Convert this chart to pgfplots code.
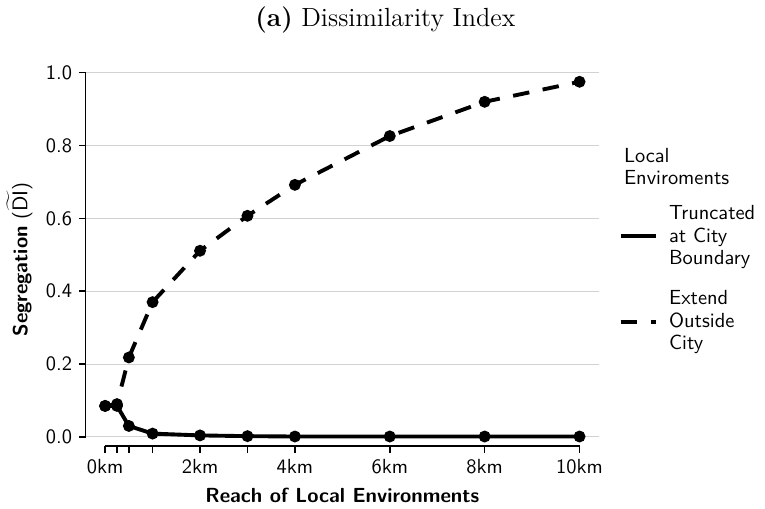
\documentclass[border=0pt]{standalone}
\usepackage{pgfplots}
\pgfplotsset{compat=1.18}
\newcommand{\sfsize}{\fontsize{10.5}{11.5}\selectfont\sffamily}
\begin{document}
\begin{tikzpicture}
\begin{axis}[
    scale only axis,
    width=264pt, height=192pt,
    xmin=-0.41, xmax=10.41,
    ymin=-0.025, ymax=1.0,
    clip=false,
    axis line style={draw=none},
    xtick={0,0.25,0.5,1,2,3,4,6,8,10},
    xticklabels={0km,,,,2km,,4km,6km,8km,10km},
    ytick={0,0.2,0.4,0.6,0.8,1.0},
    xtick pos=bottom, ytick pos=left,
    tick align=outside,
    major tick length=3.5pt,
    tick style={black, line width=0.8pt},
    ymajorgrids,
    grid style={gray!35, line width=0.5pt},
    /pgf/number format/assume math mode=true,
    ticklabel style={font=\sfsize},
    yticklabel style={/pgf/number format/fixed, /pgf/number format/precision=1, /pgf/number format/fixed zerofill},
    xlabel={\bfseries Reach of Local Environments},
    ylabel={\textbf{Segregation} ($\widetilde{\mathsf{DI}}$)},
    label style={font=\sfsize},
    title={\textbf{(a)} Dissimilarity Index},
    title style={font=\fontsize{13.5}{15}\selectfont\rmfamily, at={(rel axis cs:0.584,1)}, anchor=south, yshift=11pt},
    legend style={draw=none, fill=none, font=\sfsize,
        at={(rel axis cs:1.026,0.666)}, anchor=north west,
        cells={align=left, anchor=west}, row sep=8pt, column sep=4pt},
    legend image code/.code={\draw[#1] (0pt,0pt) -- (18pt,0pt);},
]
\addplot[black, line width=2pt, mark=*, mark size=2pt, mark options={solid, draw=none, fill=black}] coordinates {
    (0,0.085) (0.25,0.085) (0.5,0.030) (1,0.009) (2,0.004) (3,0.002)
    (4,0.001) (6,0.001) (8,0.001) (10,0.001)
};
\addlegendentry{Truncated\\at City\\Boundary}
\addplot[black, line width=2pt, dash pattern=on 8.5pt off 7pt, mark=*, mark size=2pt, mark options={solid, draw=none, fill=black}] coordinates {
    (0,0.085) (0.25,0.090) (0.5,0.218) (1,0.370) (2,0.511) (3,0.607)
    (4,0.692) (6,0.826) (8,0.920) (10,0.975)
};
\addlegendentry{Extend\\Outside\\City}
\draw[line width=0.8pt] (axis cs:0,-0.025) -- (axis cs:10,-0.025);
\draw[line width=0.8pt] (axis cs:-0.41,0) -- (axis cs:-0.41,1);
\node[anchor=north west, align=left, font=\sfsize, inner sep=0pt] at (rel axis cs:1.048,0.798) {Local\\Enviroments};
\end{axis}
\end{tikzpicture}
\end{document}
